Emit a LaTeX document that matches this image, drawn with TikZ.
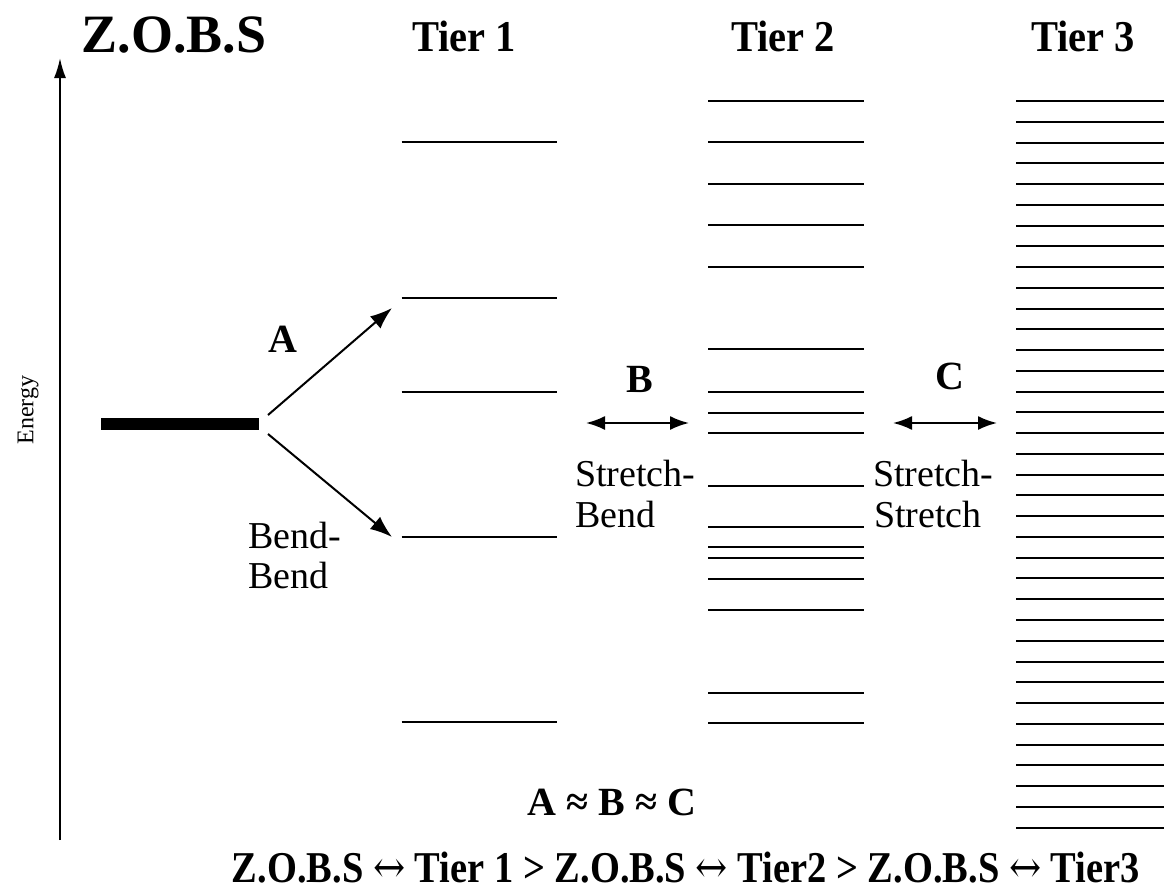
\documentclass[tikz,border=0pt]{standalone}
\usepackage{fontspec}
\setmainfont{Liberation Serif}
\newfontfamily\arrowfont{DejaVu Serif}
\usetikzlibrary{arrows.meta}
\tikzset{
  lvl/.style={line width=2pt},
  hdr/.style={font=\fontsize{44}{50}\selectfont\bfseries, anchor=base, inner sep=0pt},
  big/.style={font=\fontsize{54}{60}\selectfont\bfseries, anchor=base, inner sep=0pt},
  lbl/.style={font=\fontsize{38}{44}\selectfont, anchor=base west, inner sep=0pt},
  blbl/.style={font=\fontsize{40}{48}\selectfont\bfseries, anchor=base, inner sep=0pt},
  trans/.style={line width=2pt, -{Latex[length=22pt,width=16pt]}},
  coup/.style={line width=2pt, {Latex[length=19pt,width=14pt]}-{Latex[length=19pt,width=14pt]}},
}
\newcommand{\hdrtext}[1]{\scalebox{0.92}[1]{#1}}
\newcommand{\lrarr}{{\normalfont\arrowfont ↔}}
\begin{document}
\begin{tikzpicture}[x=1pt,y=-1pt]
\useasboundingbox (0,0) rectangle (1164,894);
% energy axis
\coordinate (ax0) at (60,840);
\coordinate (ax1) at (60,58);
\draw[line width=2pt, -{Latex[length=20pt,width=12pt]}] (ax0) -- (ax1);
\node[font=\fontsize{24}{28}\selectfont, rotate=90, inner sep=0pt] (energy) at (28,410) {Energy};
% titles
\node[big] (zobs) at (174,52) {Z.O.B.S};
\node[hdr] (t1) at (464,51) {\hdrtext{Tier 1}};
\node[hdr] (t2) at (783,51) {\hdrtext{Tier 2}};
\node[hdr] (t3) at (1083,51) {\hdrtext{Tier 3}};
% ZOBS bar
\draw[line width=12pt] (101,424) -- (259,424);
% Tier 1
\foreach \y in {142,298,391.7,537,722} \draw[lvl] (401.7,\y) -- (557,\y);
% Tier 2
\foreach \y in {101,142,183.7,225.3,266.7,348.7,391.7,413.3,433.3,486,526.7,546.7,557.7,579,610,693.3,723.3}
  \draw[lvl] (708,\y) -- (864,\y);
% Tier 3
\foreach \i in {0,...,35} \draw[lvl] (1016,101+20.76*\i) -- (1164,101+20.76*\i);
% arrows A
\coordinate (a0u) at (268,415);
\coordinate (a1u) at (392,308);
\coordinate (a0d) at (268,434);
\coordinate (a1d) at (392,537);
\draw[trans] (a0u) -- (a1u);
\draw[trans] (a0d) -- (a1d);
\node[blbl] (A) at (283,352) {A};
\node[lbl] (bb1) at (248,548) {Bend-};
\node[lbl] (bb2) at (248,588) {Bend};
% B
\coordinate (b0) at (586,423);
\coordinate (b1) at (689,423);
\draw[coup] (b0) -- (b1);
\node[blbl] (B) at (640,392) {B};
\node[lbl] (sb1) at (575,486) {Stretch-};
\node[lbl] (sb2) at (575,527) {Bend};
% C
\coordinate (c0) at (893,423);
\coordinate (c1) at (997,423);
\draw[coup] (c0) -- (c1);
\node[blbl] (C) at (950,389) {C};
\node[lbl] (ss1) at (873,486) {Stretch-};
\node[lbl] (ss2) at (874,527) {Stretch};
% relations
\node[blbl] (rel) at (612,815) {A ≈ B ≈ C};
\node[font=\fontsize{44}{50}\selectfont\bfseries, anchor=base, inner sep=0pt] (order) at (686,882)
  {\resizebox{908pt}{\height}{Z.O.B.S \lrarr{} Tier 1 > Z.O.B.S \lrarr{} Tier2 > Z.O.B.S \lrarr{} Tier3}};
\end{tikzpicture}
\end{document}
